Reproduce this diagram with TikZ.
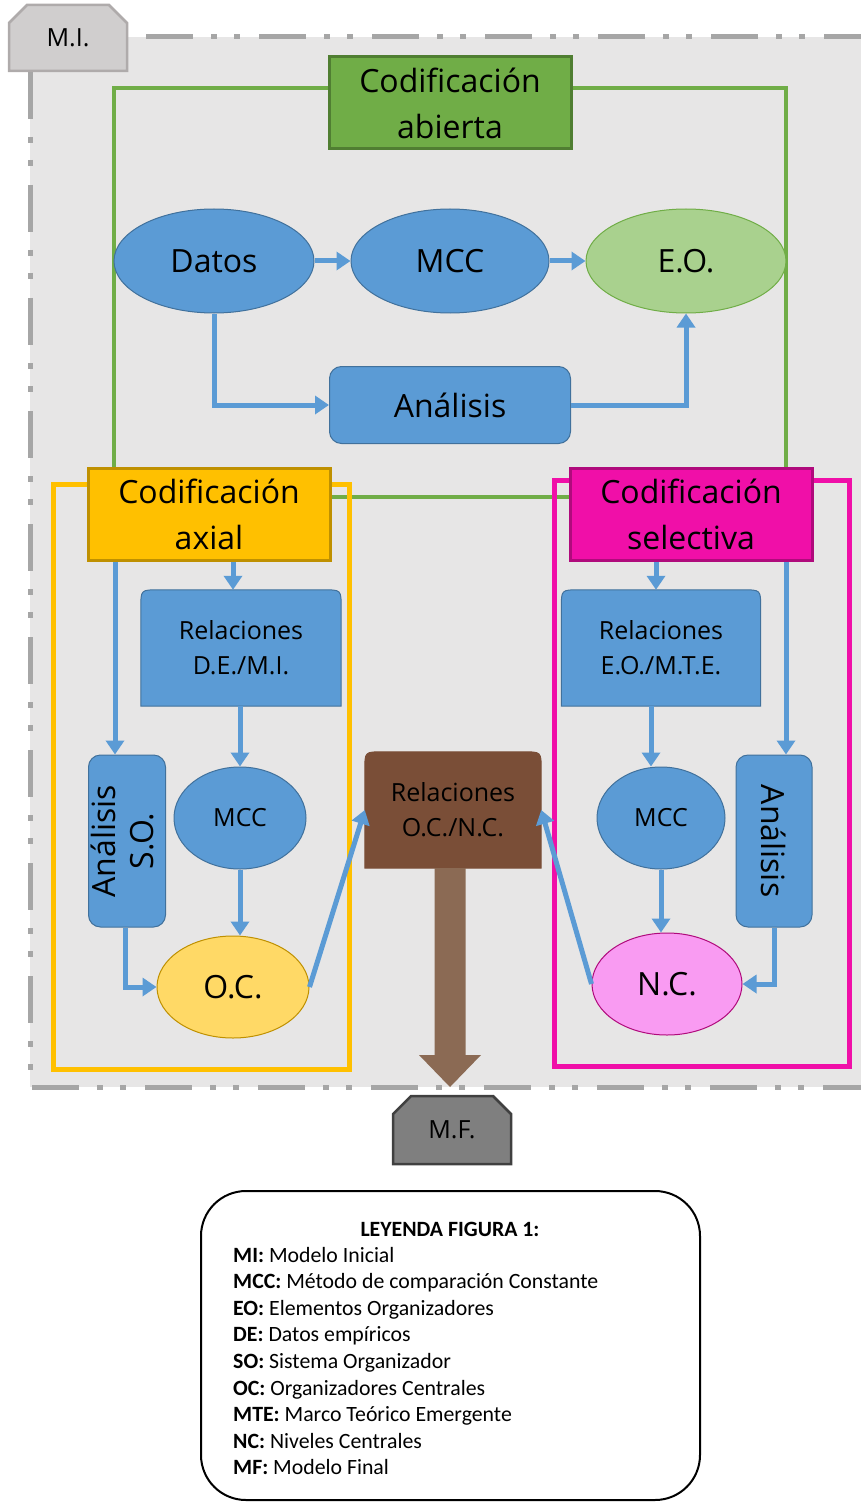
\documentclass[tikz,border=0pt]{standalone}
\usepackage{fontspec}
\usepackage{graphicx}
\setmainfont{Open Sans}
\newfontfamily\leyfont{Carlito}
\usetikzlibrary{shapes.geometric,shapes.misc,arrows.meta,calc,backgrounds}
\definecolor{fondo}{HTML}{E7E6E6}
\definecolor{raya}{HTML}{A6A6A6}
\definecolor{azul}{HTML}{5B9BD5}
\definecolor{azulb}{HTML}{41719C}
\definecolor{verde}{HTML}{70AD47}
\definecolor{verdeb}{HTML}{507E32}
\definecolor{verdec}{HTML}{A9D18E}
\definecolor{amarillo}{HTML}{FFC000}
\definecolor{amarillob}{HTML}{BF9000}
\definecolor{amarilloc}{HTML}{FFD966}
\definecolor{rosa}{HTML}{F00FA8}
\definecolor{rosab}{HTML}{B00A7C}
\definecolor{rosac}{HTML}{F99BF2}
\definecolor{cafe}{HTML}{7A4E37}
\definecolor{cafec}{HTML}{8B6A54}
\definecolor{gris}{HTML}{D0CECE}
\definecolor{grisb}{HTML}{AFABAB}
\definecolor{grisc}{HTML}{7F7F7F}
\definecolor{grisd}{HTML}{404040}
\tikzset{
	grande/.style={font=\fontsize{32}{46}\selectfont},
	chica/.style={font=\fontsize{25}{35}\selectfont},
	elipse/.style={ellipse,draw=azulb,fill=azul,line width=1pt,inner sep=0pt,grande},
	caja/.style={rectangle,rounded corners=12pt,draw=azulb,fill=azul,line width=1pt,inner sep=0pt,grande},
	codif/.style={rectangle,line width=3pt,inner sep=0pt,align=center,minimum width=242pt,minimum height=92pt,grande},
	etiqueta/.style={chamfered rectangle,chamfered rectangle corners={north west,north east},chamfered rectangle xsep=9pt,chamfered rectangle ysep=9pt,line width=2.5pt,inner sep=0pt,chica},
	texto/.style={inner sep=0pt,align=center,chica},
	flujo/.style={draw=azul,line width=5pt,-{Triangle[width=18pt,length=14pt]}},
	marco/.style={line width=5pt},
	ley/.style={inner sep=0pt,font=\leyfont\fontsize{21.8}{26}\selectfont},
}
\newcommand\toptapa[3]{\filldraw[fill=#2,draw=#3,line width=1pt]
	(#1.south west) -- ($(#1.north west)+(0,18)$) .. controls (#1.north west) .. ($(#1.north west)+(18,0)$)
	-- ($(#1.north east)+(-18,0)$) .. controls (#1.north east) .. ($(#1.north east)+(0,18)$)
	-- (#1.south east) -- cycle;}
\begin{document}
\begin{tikzpicture}[x=1pt,y=-1pt]
	\useasboundingbox (0,0) rectangle (861,1503);
	\begin{scope}[on background layer]
		\fill[fondo] (30,37) rectangle (861,1087);
		\draw[raya,marco,dash pattern=on 47pt off 18pt on 6pt off 17pt on 6pt off 19pt]
		(146,37) -- (861,37)
		(30,72) -- (30,1087) -- (861,1087);
		\draw[verde,line width=4pt] (114,88) rectangle (786,497);
		\draw[amarillo,marco] (53,484) rectangle (349,1069);
		\draw[rosa,marco] (554,480) rectangle (849,1066);
	\end{scope}
	
	\node[etiqueta,fill=gris,draw=grisb,minimum width=118pt,minimum height=66pt] (mi) at (68,38) {M.I.};
	\node[codif,fill=verde,draw=verdeb] (abierta) at (450,103) {Codificación\\abierta};
	\node[elipse,minimum width=200pt,minimum height=104pt] (datos) at (214,261) {Datos};
	\node[elipse,minimum width=198pt,minimum height=104pt] (mcc1) at (450,261) {MCC};
	\node[elipse,fill=verdec,draw=verde,minimum width=200pt,minimum height=104pt] (eo) at (686,261) {E.O.};
	\node[caja,minimum width=241pt,minimum height=77pt] (anl) at (450,405) {Análisis};
	\node[codif,fill=amarillo,draw=amarillob] (axial) at (209,514) {Codificación\\axial};
	\node[codif,fill=rosa,draw=rosab] (selec) at (691,514) {Codificación\\selectiva};
	\node[texto,minimum width=200pt,minimum height=116pt] (dem) at (241,648) {Relaciones\\D.E./M.I.};
	\node[texto,minimum width=199pt,minimum height=116pt] (mte) at (661,648) {Relaciones\\E.O./M.T.E.};
	\node[caja,minimum width=77pt,minimum height=172pt] (anso) at (127,841)
	{\rotatebox{90}{\fontsize{32}{38}\selectfont\begin{tabular}{@{}c@{}}Análisis\\S.O.\end{tabular}}};
	\node[elipse,chica,minimum width=132pt,minimum height=102pt] (mcc2) at (240,818) {MCC};
	\node[elipse,fill=amarilloc,draw=amarillob,minimum width=152pt,minimum height=102pt] (oc) at (233,987) {O.C.};
	\node[texto,minimum width=176pt,minimum height=116pt] (ocnc) at (453,810) {Relaciones\\O.C./N.C.};
	\node[elipse,chica,minimum width=128pt,minimum height=102pt] (mcc3) at (661,818) {MCC};
	\node[caja,minimum width=76pt,minimum height=172pt] (anr) at (774,841) {\rotatebox{-90}{Análisis}};
	\node[elipse,fill=rosac,draw=rosab,minimum width=150pt,minimum height=102pt] (nc) at (667,984) {N.C.};
	\node[etiqueta,fill=grisc,draw=grisd,minimum width=118pt,minimum height=68pt] (mf) at (452,1130) {M.F.};
	
	\begin{scope}[on background layer]
		\toptapa{dem}{azul}{azulb}
		\toptapa{mte}{azul}{azulb}
		\toptapa{ocnc}{cafe}{cafe}
	\end{scope}
	
	\draw[flujo] (datos.east) -- (mcc1.west);
	\draw[flujo] (mcc1.east) -- (eo.west);
	\draw[flujo] (datos.south) |- (anl.west);
	\draw[flujo] (anl.east) -| (eo.south);
	\draw[flujo] ([xshift=24pt]axial.south) -- ([xshift=24pt]axial.south |- dem.north);
	\draw[flujo] ([xshift=-12pt]anso.north |- axial.south) -- ([xshift=-12pt]anso.north);
	\draw[flujo] (dem.south -| mcc2.north) -- (mcc2.north);
	\draw[flujo] (mcc2.south) -- (mcc2.south |- oc.north);
	\draw[flujo] ([xshift=-2pt]anso.south) |- (oc.west);
	\draw[flujo] (oc.east) -- (ocnc.west);
	\draw[flujo] ([xshift=-35pt]selec.south) -- ([xshift=-35pt]selec.south |- mte.north);
	\draw[flujo] ([xshift=12pt]anr.north |- selec.south) -- ([xshift=12pt]anr.north);
	\draw[flujo] ([xshift=-10pt]mte.south) -- ([xshift=-10pt]mte.south |- mcc3.north);
	\draw[flujo] (mcc3.south) -- (mcc3.south |- nc.north);
	\draw[flujo] (anr.south) |- (nc.east);
	\draw[flujo] (nc.west) -- (ocnc.east);
	
	\coordinate (punta) at (450,1087);
	\fill[cafec] ($(ocnc.south -| punta)+(-15.5,0)$) -- ($(punta)+(-15.5,-32)$) -- ($(punta)+(-31,-32)$)
	-- (punta) -- ($(punta)+(31,-32)$) -- ($(punta)+(15.5,-32)$) -- ($(ocnc.south -| punta)+(15.5,0)$) -- cycle;
	
	\node[draw=black,line width=2pt,rounded corners=45pt,minimum width=499pt,minimum height=309pt] (leyenda) at (450.5,1345.5) {};
	\node[ley] (titulo) at (450,1229) {\textbf{LEYENDA FIGURA 1:}};
	\foreach \sig/\des [count=\i] in {MI/Modelo Inicial,MCC/Método de comparación Constante,EO/Elementos Organizadores,DE/Datos empíricos,SO/Sistema Organizador,OC/Organizadores Centrales,MTE/Marco Teórico Emergente,NC/Niveles Centrales,MF/Modelo Final}
	\node[ley,anchor=base west] (ley\i) at (233,{1262+26.6*(\i-1)}) {\textbf{\sig:} \des};
\end{tikzpicture}
\end{document}
